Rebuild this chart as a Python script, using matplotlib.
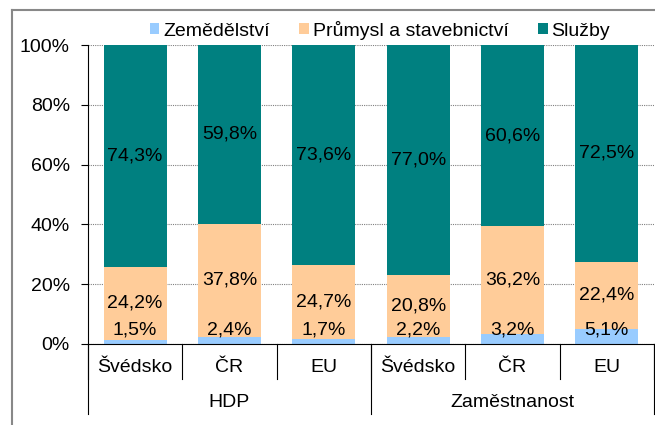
import matplotlib.pyplot as plt
from matplotlib.lines import Line2D
import numpy as np

plt.rcParams['font.family'] = ['Liberation Sans', 'DejaVu Sans']

categories = ['Švédsko', 'ČR', 'EU', 'Švédsko', 'ČR', 'EU']
groups = ['HDP', 'Zaměstnanost']
zemedelstvi = [1.5, 2.4, 1.7, 2.2, 3.2, 5.1]
prumysl = [24.2, 37.8, 24.7, 20.8, 36.2, 22.4]
sluzby = [74.3, 59.8, 73.6, 77.0, 60.6, 72.5]
series_names = ['Zemědělství', 'Průmysl a stavebnictví', 'Služby']
colors = ['#99CCFF', '#FFCC99', '#008080']

def fmt(v):
    return f"{v:.1f}%".replace('.', ',')

FS = 14

fig = plt.figure(figsize=(6.55, 4.25), dpi=100)
ax = fig.add_axes([88 / 655, 1 - 344 / 425, 566 / 655, 299 / 425])

x = np.arange(len(categories))
w = 0.67
z = np.array(zemedelstvi)
p = np.array(prumysl)
s = np.array(sluzby)
b1 = ax.bar(x, z, w, color=colors[0], label=series_names[0], zorder=2)
b2 = ax.bar(x, p, w, bottom=z, color=colors[1], label=series_names[1], zorder=2)
b3 = ax.bar(x, s, w, bottom=z + p, color=colors[2], label=series_names[2], zorder=2)

for i in range(len(x)):
    ax.text(x[i], 4.6, fmt(z[i]), ha='center', va='center', fontsize=FS, zorder=3)
    ax.text(x[i], z[i] + p[i] / 2, fmt(p[i]), ha='center', va='center', fontsize=FS, zorder=3)
    ax.text(x[i], z[i] + p[i] + s[i] / 2, fmt(s[i]), ha='center', va='center', fontsize=FS, zorder=3)

ax.set_xlim(-0.5, 5.5)
ax.set_ylim(0, 100)
ax.set_yticks(np.arange(0, 101, 20))
ax.set_yticklabels([f"{v}%" for v in range(0, 101, 20)], fontsize=FS)
ax.yaxis.grid(True, linestyle=(0, (1, 1)), color='#808080', linewidth=0.8, zorder=0)
ax.tick_params(axis='y', direction='out', length=5, width=0.8, pad=8)
ax.set_xticks([])
for sp in ['top', 'right']:
    ax.spines[sp].set_visible(False)
ax.spines['left'].set_linewidth(0.8)
ax.spines['bottom'].set_linewidth(0.8)

# two-level category axis
tr = ax.get_xaxis_transform()
for xs in np.arange(-0.5, 5.6, 1.0):
    ax.plot([xs, xs], [0, -0.117], transform=tr, color='black', lw=0.8, clip_on=False)
for xs in [-0.5, 2.5, 5.5]:
    ax.plot([xs, xs], [0, -0.234], transform=tr, color='black', lw=0.8, clip_on=False)
for i, c in enumerate(categories):
    ax.text(x[i], -0.077, c, transform=tr, ha='center', va='center', fontsize=FS)
for g, gx in zip(groups, [1, 4]):
    ax.text(gx, -0.194, g, transform=tr, ha='center', va='center', fontsize=FS)

fig.legend(handles=[b1, b2, b3], labels=series_names, loc='center', bbox_to_anchor=(0.58, 1 - 30 / 425),
           ncol=3, frameon=False, fontsize=FS, handlelength=0.5, handleheight=0.5,
           handletextpad=0.2, columnspacing=1.5)

# outer chart frame (partly cut off)
fig.add_artist(Line2D([12 / 655, 12 / 655], [0, 1 - 10 / 425], transform=fig.transFigure, color='#888888', lw=1.5))
fig.add_artist(Line2D([12 / 655, 1], [1 - 10 / 425, 1 - 10 / 425], transform=fig.transFigure, color='#888888', lw=1.5))

fig.savefig('out.png', dpi=100)
